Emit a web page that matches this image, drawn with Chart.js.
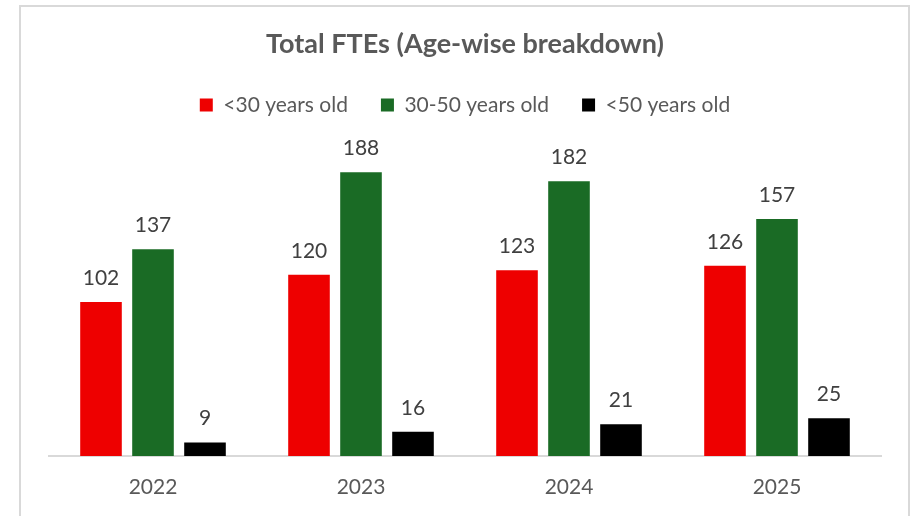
<!DOCTYPE html>
<html>
<head>
<meta charset="utf-8">
<title>Total FTEs</title>
<script src="https://cdn.jsdelivr.net/npm/chart.js@4.4.1/dist/chart.umd.min.js"></script>
<style>
  html, body { margin: 0; padding: 0; background: #fff; }
  #wrap { width: 914px; height: 516px; }
</style>
</head>
<body>
<div id="wrap"><canvas id="fteChart" width="914" height="516"></canvas></div>
<script>
// Chart data
const years = ['2022', '2023', '2024', '2025'];
const under30 = [102, 120, 123, 126];
const from30to50 = [137, 188, 182, 157];
const over50 = [9, 16, 21, 25];
const seriesNames = ['<30 years old', '30-50 years old', '<50 years old'];

const FONT = 'Lato, "Open Sans", sans-serif';

// White background + light grey frame like the exported chart box
const framePlugin = {
  id: 'frame',
  beforeDraw(chart) {
    const ctx = chart.ctx;
    ctx.save();
    ctx.fillStyle = '#fff';
    ctx.fillRect(0, 0, chart.width, chart.height);
    ctx.strokeStyle = '#d9d9d9';
    ctx.lineWidth = 2;
    ctx.strokeRect(20, 6, 889, 600);
    ctx.restore();
  }
};

// Value labels above each bar
const valueLabels = {
  id: 'valueLabels',
  afterDatasetsDraw(chart) {
    const ctx = chart.ctx;
    ctx.save();
    ctx.font = '21px ' + FONT;
    ctx.fillStyle = '#404040';
    ctx.textAlign = 'center';
    ctx.textBaseline = 'alphabetic';
    chart.data.datasets.forEach((ds, i) => {
      chart.getDatasetMeta(i).data.forEach((bar, j) => {
        ctx.fillText(String(ds.data[j]), bar.x, bar.y - 17);
      });
    });
    ctx.restore();
  }
};

function initChart() {
  const ctx = document.getElementById('fteChart');
  const barOpts = { categoryPercentage: 0.75, barPercentage: 0.8, borderWidth: 0 };

  new Chart(ctx, {
    type: 'bar',
    data: {
      labels: years,
      datasets: [
        Object.assign({ label: seriesNames[0], data: under30, backgroundColor: '#ee0000' }, barOpts),
        Object.assign({ label: seriesNames[1], data: from30to50, backgroundColor: '#1a6b25' }, barOpts),
        Object.assign({ label: seriesNames[2], data: over50, backgroundColor: '#000000' }, barOpts)
      ]
    },
    options: {
      responsive: false,
      animation: false,
      devicePixelRatio: 1,
      layout: { padding: { left: 49, right: 33, top: 0, bottom: -3 } },
      plugins: {
        title: {
          display: true,
          text: 'Total FTEs (Age-wise breakdown)',
          color: '#595959',
          font: { family: FONT, size: 27, weight: 'bold' },
          padding: { top: 28, bottom: 1 }
        },
        legend: {
          display: true,
          labels: {
            color: '#595959',
            font: { family: FONT, size: 21 },
            boxWidth: 13,
            boxHeight: 13,
            padding: 33
          }
        },
        tooltip: { enabled: false }
      },
      scales: {
        x: {
          grid: { display: false, drawTicks: false },
          border: { display: true, color: '#d9d9d9', width: 2 },
          ticks: {
            color: '#595959',
            font: { family: FONT, size: 21, lineHeight: 1 },
            padding: 21
          }
        },
        y: {
          display: false,
          beginAtZero: true,
          max: 219
        }
      }
    },
    plugins: [framePlugin, valueLabels]
  });
}

initChart();
</script>
</body>
</html>
